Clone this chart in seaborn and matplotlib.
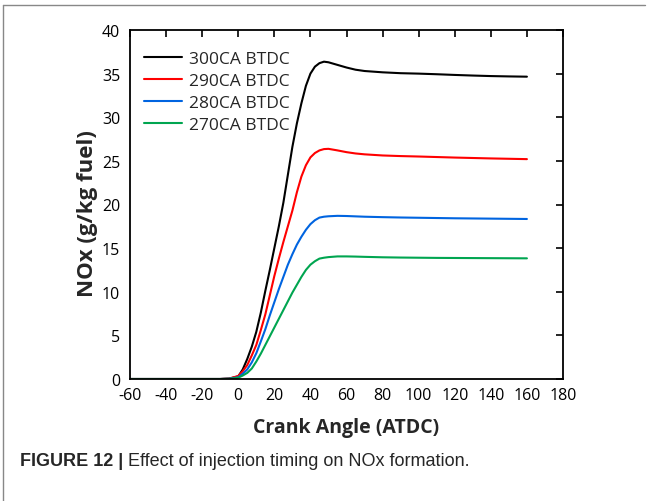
import matplotlib
matplotlib.use("Agg")
import matplotlib.pyplot as plt
from matplotlib.lines import Line2D
import seaborn as sns
import pandas as pd

crank = [-60, -20, -10, -5, 0, 2.5, 5, 7.5, 10, 12.5, 15, 17.5, 20, 22.5, 25, 27.5, 30, 32.5, 35, 37.5, 40, 42.5, 45, 47.5, 50, 55, 60, 65, 70, 80, 90, 100, 110, 120, 130, 140, 150, 160]
nox_300 = [0, 0, 0, 0.05, 0.3, 1.1, 2.3, 3.7, 5.4, 7.6, 10.1, 12.5, 15.0, 17.5, 20.2, 23.4, 26.6, 29.3, 31.6, 33.6, 35.0, 35.8, 36.2, 36.37, 36.3, 36.0, 35.7, 35.45, 35.3, 35.15, 35.05, 35.0, 34.93, 34.85, 34.78, 34.72, 34.68, 34.65]
nox_290 = [0, 0, 0, 0.05, 0.35, 0.9, 1.6, 2.7, 3.9, 5.6, 7.4, 9.6, 11.8, 13.8, 15.7, 17.5, 19.3, 21.4, 23.2, 24.5, 25.4, 25.9, 26.2, 26.35, 26.38, 26.2, 26.0, 25.85, 25.75, 25.62, 25.55, 25.5, 25.44, 25.38, 25.33, 25.28, 25.24, 25.2]
nox_280 = [0, 0, 0, 0.03, 0.2, 0.6, 1.1, 1.9, 2.95, 4.3, 5.7, 7.3, 8.8, 10.3, 11.7, 13.1, 14.3, 15.4, 16.3, 17.1, 17.75, 18.2, 18.5, 18.6, 18.65, 18.7, 18.68, 18.64, 18.6, 18.55, 18.51, 18.48, 18.45, 18.42, 18.4, 18.38, 18.36, 18.34]
nox_270 = [0, 0, 0, 0.02, 0.15, 0.4, 0.7, 1.2, 2.0, 2.9, 3.9, 4.9, 5.9, 6.9, 7.9, 8.9, 9.9, 10.8, 11.7, 12.5, 13.1, 13.5, 13.8, 13.9, 13.97, 14.05, 14.05, 14.03, 14.0, 13.95, 13.92, 13.9, 13.88, 13.87, 13.86, 13.85, 13.84, 13.83]
labels = ["300CA BTDC", "290CA BTDC", "280CA BTDC", "270CA BTDC"]
colors = ["#000000", "#ff0000", "#0064e0", "#00a550"]
x_ticks = list(range(-60, 181, 20))
y_ticks = list(range(0, 41, 5))

frames = []
for lab, vals in zip(labels, [nox_300, nox_290, nox_280, nox_270]):
    frames.append(pd.DataFrame({"crank": crank, "nox": vals, "series": lab}))
df = pd.concat(frames, ignore_index=True)

sns.set_theme(style="white")
plt.rcParams["font.family"] = ["Open Sans", "DejaVu Sans"]
plt.rcParams["axes.unicode_minus"] = False

fig = plt.figure(figsize=(6.47, 5.02), dpi=100)
ax = fig.add_axes([130 / 647, 1 - 380 / 502, (563 - 130) / 647, (380 - 31) / 502])

sns.lineplot(data=df, x="crank", y="nox", hue="series", hue_order=labels,
             palette=dict(zip(labels, colors)), linewidth=1.5, ax=ax, legend=True)

ax.set_xlim(-60, 180)
ax.set_ylim(0, 40)
ax.set_xticks(x_ticks)
ax.set_yticks(y_ticks)
ax.tick_params(direction="in", top=True, right=True, length=5, width=1.2,
               labelsize=11.5, colors="black")
ax.tick_params(axis="x", labeltop=False, pad=5.5)
ax.tick_params(axis="y", labelright=False, pad=7)
for s in ax.spines.values():
    s.set_color("black")
    s.set_linewidth(1.3)

ax.set_xlabel("Crank Angle (ATDC)", fontsize=14, fontweight="bold", labelpad=10)
ax.set_ylabel("NOx (g/kg fuel)", fontsize=16, fontweight="bold")
ax.yaxis.set_label_coords((98 - 130) / 433, (380 - 214) / 349)

leg = ax.legend(loc="upper left", frameon=False, fontsize=12.5, handlelength=2.2,
                handletextpad=0.4, labelspacing=0.34, borderaxespad=0.4,
                bbox_to_anchor=(0.0, 1 - 7 / 349))

fig.add_artist(Line2D([3 / 647, 645 / 647], [1 - 6 / 502, 1 - 6 / 502],
                      transform=fig.transFigure, color="#888888", linewidth=1.0))
fig.add_artist(Line2D([3 / 647, 3 / 647], [1 - 6 / 502, 0.0],
                      transform=fig.transFigure, color="#888888", linewidth=1.0))

cap_y = 1 - 462 / 502
t1 = fig.text(20 / 647, cap_y, "FIGURE 12 |", fontsize=13, fontweight="bold",
              family=["Liberation Sans", "DejaVu Sans"], va="center", ha="left")
fig.canvas.draw()
bb = t1.get_window_extent(renderer=fig.canvas.get_renderer())
x2 = (bb.x1 + 5) / fig.bbox.width
fig.text(x2, cap_y, "Effect of injection timing on NOx formation.",
         fontsize=13, family=["Liberation Sans", "DejaVu Sans"], va="center", ha="left")

fig.savefig("out.png", dpi=100)
